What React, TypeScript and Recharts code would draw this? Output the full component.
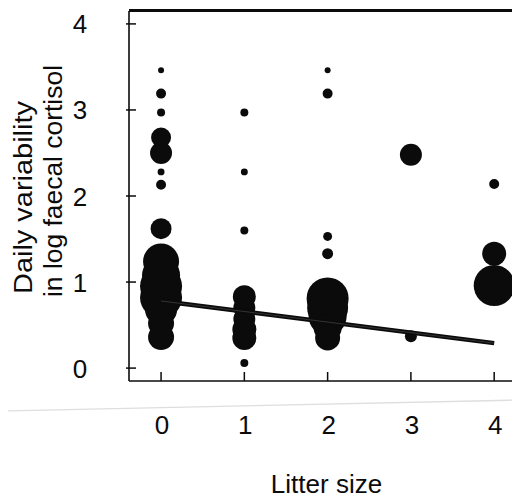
import React from "react";
import { ScatterChart, Scatter, XAxis, YAxis, ZAxis } from "recharts";

// litter size of each observation group
const litterSize = [
  0, 0, 0, 0, 0, 0, 0, 0, 0, 0, 0, 0, 0, 0, 0,
  1, 1, 1, 1, 1, 1, 1, 1, 1,
  2, 2, 2, 2, 2, 2, 2, 2, 2,
  3, 3,
  4, 4, 4,
];

// daily variability in log faecal cortisol
const variability = [
  3.46, 3.19, 2.97, 2.68, 2.5, 2.28, 2.13, 1.62, 1.24, 1.08, 0.95, 0.82, 0.68, 0.52, 0.36,
  2.97, 2.28, 1.6, 0.83, 0.7, 0.57, 0.45, 0.35, 0.06,
  3.46, 3.19, 1.53, 1.33, 0.81, 0.7, 0.6, 0.47, 0.35,
  2.48, 0.37,
  2.14, 1.33, 0.96,
];

// number of samples behind each point (bubble area)
const samples = [
  9, 25, 16, 100, 121, 12, 25, 110, 324, 361, 441, 441, 256, 169, 169,
  16, 12, 16, 132, 121, 121, 144, 144, 16,
  9, 25, 20, 30, 441, 420, 361, 196, 156,
  121, 36,
  25, 144, 420,
];

// fitted regression line
const fitX = [0, 4];
const fitY = [0.78, 0.29];

const xTicks = [0, 1, 2, 3, 4];
const yTicks = [0, 1, 2, 3, 4];

const points = litterSize.map((x, i) => ({ x, y: variability[i], n: samples[i] }));
const fit = fitX.map((x, i) => ({ x, y: fitY[i] }));

const W = 520;
const H = 501;
const TOP = 10;
const X_AXIS_H = 120;
const Y_AXIS_W = 129;
const PLOT_BOTTOM = H - X_AXIS_H;
const X_DOMAIN = [-0.385, 4.31];
const Y_DOMAIN = [-0.15, 4.15];

const FONT = '"Liberation Sans", Arial, sans-serif';
const INK = "#0b0b0b";

const XTick = ({ x, payload }: any) => (
  <g>
    <line x1={x} x2={x} y1={PLOT_BOTTOM} y2={PLOT_BOTTOM - 9} stroke={INK} strokeWidth={1.5} />
    <text x={x + 1} y={PLOT_BOTTOM + 53} textAnchor="middle" fontSize={26} fontFamily={FONT} fill={INK}>
      {payload.value}
    </text>
  </g>
);

const YTick = ({ y, payload }: any) => (
  <g>
    <line x1={Y_AXIS_W - 3} x2={Y_AXIS_W + 7} y1={y} y2={y} stroke={INK} strokeWidth={1.5} />
    <text x={80} y={y + 9.5} textAnchor="middle" fontSize={26} fontFamily={FONT} fill={INK}>
      {payload.value}
    </text>
  </g>
);

const XTitle = ({ viewBox }: any) => (
  <text
    x={viewBox.x + viewBox.width / 2 + 2}
    y={PLOT_BOTTOM + 112}
    textAnchor="middle"
    fontSize={26}
    fontFamily={FONT}
    fill={INK}
  >
    Litter size
  </text>
);

const YTitle = () => {
  const x1 = 32;
  const y1 = 294;
  const x2 = 62;
  const y2 = 297;
  return (
    <g fontFamily={FONT} fontSize={26} fill={INK}>
      <text x={x1} y={y1} transform={`rotate(-90 ${x1} ${y1})`} textLength={193} lengthAdjust="spacingAndGlyphs">
        Daily variability
      </text>
      <text x={x2} y={y2} transform={`rotate(-90 ${x2} ${y2})`} textLength={232} lengthAdjust="spacingAndGlyphs">
        in log faecal cortisol
      </text>
    </g>
  );
};

const NoDot = () => <g />;

export default function App() {
  return (
    <div style={{ position: "relative", margin: -8, width: W, height: H, background: "#fff" }}>
      <ScatterChart width={W} height={H} margin={{ top: TOP, right: 0, bottom: 0, left: 0 }}>
        <XAxis
          type="number"
          dataKey="x"
          domain={X_DOMAIN}
          ticks={xTicks}
          allowDataOverflow
          height={X_AXIS_H}
          axisLine={{ stroke: INK, strokeWidth: 1.6 }}
          tickLine={false}
          tickSize={0}
          tickMargin={0}
          tick={<XTick />}
          label={<XTitle />}
        />
        <XAxis
          xAxisId="frame"
          orientation="top"
          type="number"
          dataKey="x"
          domain={X_DOMAIN}
          allowDataOverflow
          height={1}
          axisLine={{ stroke: INK, strokeWidth: 2 }}
          tickLine={false}
          tick={false}
        />
        <YAxis
          type="number"
          dataKey="y"
          domain={Y_DOMAIN}
          ticks={yTicks}
          allowDataOverflow
          width={Y_AXIS_W}
          axisLine={{ stroke: INK, strokeWidth: 1.6 }}
          tickLine={false}
          tickSize={0}
          tickMargin={0}
          tick={<YTick />}
          label={<YTitle />}
        />
        <ZAxis type="number" dataKey="n" domain={[0, 441]} range={[0, 1385]} />
        <Scatter data={points} fill={INK} isAnimationActive={false} />
        <Scatter
          data={fit}
          shape={<NoDot />}
          line={{ stroke: INK, strokeWidth: 4.5 }}
          isAnimationActive={false}
        />
        <Scatter
          data={fit}
          shape={<NoDot />}
          line={{ stroke: "#3c3c3c", strokeWidth: 0.8 }}
          isAnimationActive={false}
        />
      </ScatterChart>
      {/* top edge of the plot frame and the faint scan crease */}
      <svg
        width={W}
        height={H}
        style={{ position: "absolute", left: 0, top: 0, pointerEvents: "none" }}
      >
        <line x1={Y_AXIS_W} x2={W} y1={TOP} y2={TOP} stroke={INK} strokeWidth={2.2} />
        <line x1={0} x2={W} y1={411} y2={400} stroke="#dedede" strokeWidth={1.4} />
      </svg>
    </div>
  );
}
